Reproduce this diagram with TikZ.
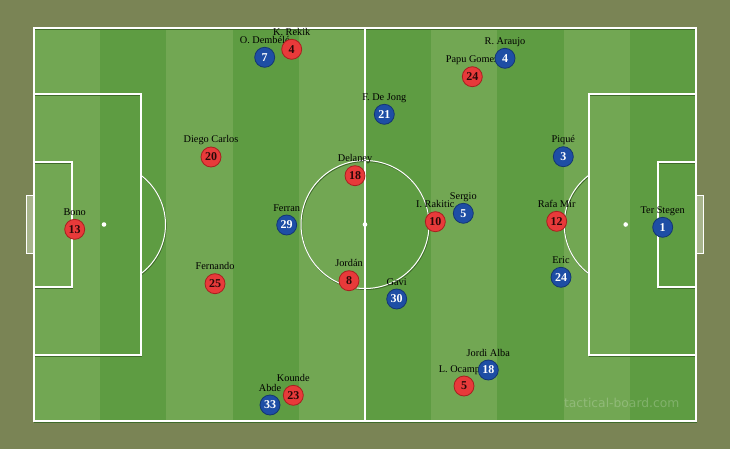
\documentclass[tikz,border=0pt]{standalone}
\usepackage{fontspec}
\setmainfont{Liberation Serif}
\newfontfamily\markfont{DejaVu Sans}

\definecolor{bgolive}{HTML}{7A8455}
\definecolor{lightturf}{HTML}{72A753}
\definecolor{darkturf}{HTML}{5E9C42}
\definecolor{lineshade}{HTML}{3E6A2A}
\definecolor{goalfill}{HTML}{A7B48C}
\definecolor{homered}{HTML}{E83A3A}
\definecolor{homeredline}{HTML}{A82020}
\definecolor{homenum}{HTML}{2A0808}
\definecolor{awayblue}{HTML}{1E4EA5}
\definecolor{awayblueline}{HTML}{143672}

\tikzset{
  pitchline/.style={draw=white, line width=1.3pt},
  shadowline/.style={draw=lineshade, line width=1.3pt},
  player/.style={circle, minimum size=20pt, inner sep=0pt, line width=0.8pt,
    font=\bfseries\fontsize{12}{12}\selectfont},
  redplayer/.style={player, fill=homered, draw=homeredline, text=homenum},
  blueplayer/.style={player, fill=awayblue, draw=awayblueline, text=white},
  playername/.style={anchor=base, inner sep=0pt, font=\fontsize{10.3}{11}\selectfont},
  watermark/.style={text=white, opacity=0.22, font=\markfont\fontsize{12.3}{13}\selectfont},
}

\begin{document}
\begin{tikzpicture}[x=1pt, y=-1pt]

\newcommand\DrawMarkings[1]{%
  \draw[#1] (34,28) rectangle (696,421);
  \draw[#1] (365,28) -- (365,421);
  \draw[#1, line width=1pt] (365,224.5) circle (64);
  % penalty and goal areas
  \draw[#1] (34,94) rectangle (141,355);
  \draw[#1] (696,94) rectangle (589,355);
  \draw[#1] (34,162) rectangle (72,287);
  \draw[#1] (696,162) rectangle (658,287);
  % the "D" of each box
  \draw[#1, line width=1pt] ([shift={(-53:61.5)}]104,224.5) arc (-53:53:61.5);
  \draw[#1, line width=1pt] ([shift={(127:61.5)}]625.7,224.5) arc (127:233:61.5);
}

% surround and striped turf
\fill[bgolive] (0,0) rectangle (730,449);
\foreach \i in {0,...,9} {
  \pgfmathsetmacro\xa{34+66.2*\i}
  \pgfmathsetmacro\xb{34+66.2*(\i+1)}
  \ifodd\i \def\turf{darkturf}\else \def\turf{lightturf}\fi
  \fill[\turf] (\xa,28) rectangle (\xb,421);
}

% goals
\filldraw[fill=goalfill, draw=white, line width=1pt] (26,195) rectangle (34,253);
\filldraw[fill=goalfill, draw=white, line width=1pt] (696,195) rectangle (703.5,253);

\begin{scope}[shift={(0.6,1)}]
  \DrawMarkings{shadowline}
\end{scope}
\DrawMarkings{pitchline}

\fill[white] (104,224.5) circle (2.3);
\fill[white] (625.7,224.5) circle (2.3);
\fill[white] (365,224.5) circle (2.3);

\node[watermark] (site) at (621.7,403.3) {tactical-board.com};

% names first, so that the discs sit on top of them
\foreach \id/\x/\y/\name in {
    r4/291.7/49.3/K. Rekik, r24/472.3/76.7/Papu Gomez, r20/211/157/Diego Carlos,
    r18/355/175.7/Delaney, r13/74.7/229.3/Bono, r10/435.3/221.7/I. Rakitic,
    r12/556.7/221.3/Rafa Mir, r25/215/283.7/Fernando, r8/349/280.7/Jordán,
    r23/293.3/395.3/Kounde, r5/464/386/L. Ocampos,
    b7/264.7/57.3/O. Dembélé, b4/505/58.3/R. Araujo, b21/384.3/114.3/F. De Jong,
    b3/563.3/156.7/Piqué, b29/286.7/225/Ferran, b5/463.3/213.3/Sergio,
    b1/662.7/227.3/Ter Stegen, b24/561/277.3/Eric, b30/396.7/299/Gavi,
    b33/270/405/Abde, b18/488.3/370/Jordi Alba} {
  \coordinate (\id) at (\x,\y);
  \node[playername] (\id-name) at ([yshift=14pt]\id) {\name};
}

% Sevilla
\foreach \id/\num in {r4/4, r24/24, r20/20, r18/18, r13/13, r10/10,
    r12/12, r25/25, r8/8, r23/23, r5/5} {
  \node[redplayer] (\id-disc) at (\id) {\num};
}
% Barcelona
\foreach \id/\num in {b7/7, b4/4, b21/21, b3/3, b29/29, b5/5,
    b1/1, b24/24, b30/30, b33/33, b18/18} {
  \node[blueplayer] (\id-disc) at (\id) {\num};
}

\end{tikzpicture}
\end{document}
